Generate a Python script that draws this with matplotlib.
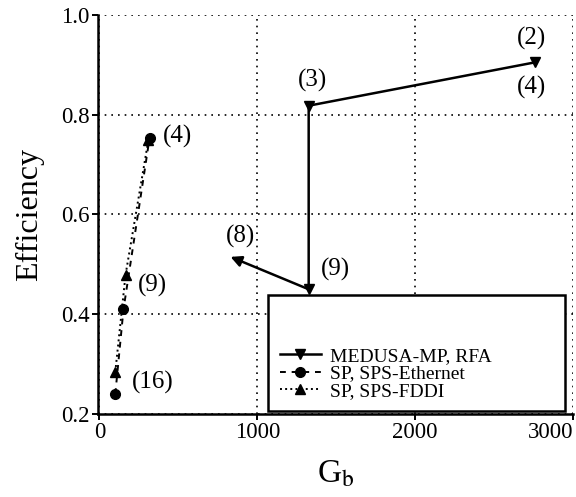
import matplotlib
matplotlib.use("Agg")
import matplotlib.pyplot as plt
from matplotlib.patches import Rectangle

plt.rcParams['font.family'] = ['Liberation Serif', 'DejaVu Serif']
plt.rcParams['mathtext.fontset'] = 'stix'

# MEDUSA-MP, RFA: path (2)/(4) -> (3) -> (9) -> (8)
medusa_gb = [2760, 1325, 1325]
medusa_eff = [0.905, 0.818, 0.450]
medusa_last_gb = 830
medusa_last_eff = 0.515

# SP, SPS-Ethernet
eth_gb = [100, 152, 317]
eth_eff = [0.240, 0.410, 0.753]

# SP, SPS-FDDI
fddi_gb = [100, 165, 310]
fddi_eff = [0.284, 0.479, 0.750]

fig = plt.figure(figsize=(5.76, 4.97), dpi=100)
ax = fig.add_axes([0.170, 0.167, 0.825, 0.803])

ax.plot(fddi_gb, fddi_eff, color='black', linestyle=':', linewidth=1.4,
        marker='^', markersize=6.5, label='SP, SPS-FDDI', zorder=3)
ax.plot(eth_gb, eth_eff, color='black', linestyle='--', linewidth=1.4,
        dashes=(3, 3), marker='o', markersize=7, label='SP, SPS-Ethernet', zorder=3)
ax.plot(medusa_gb, medusa_eff, color='black', linestyle='-', linewidth=1.8,
        marker='v', markersize=7, label='MEDUSA-MP, RFA', zorder=3)
# last MEDUSA segment ends in an arrow head
ax.annotate('', xy=(medusa_last_gb, medusa_last_eff),
            xytext=(medusa_gb[-1], medusa_eff[-1]),
            arrowprops=dict(arrowstyle='-|>', color='black', lw=1.8,
                            mutation_scale=16, shrinkA=0, shrinkB=0), zorder=3)

lbl = dict(fontsize=18, ha='center', va='center', textcoords='offset points')
ax.annotate('(2)', (medusa_gb[0], medusa_eff[0]), xytext=(-3, 17), **lbl)
ax.annotate('(4)', (medusa_gb[0], medusa_eff[0]), xytext=(-3, -18), **lbl)
ax.annotate('(3)', (medusa_gb[1], medusa_eff[1]), xytext=(3, 18), **lbl)
ax.annotate('(9)', (medusa_gb[2], medusa_eff[2]), xytext=(19, 14), **lbl)
ax.annotate('(8)', (medusa_last_gb, medusa_last_eff), xytext=(7, 15), **lbl)
ax.annotate('(4)', (eth_gb[2], eth_eff[2]), xytext=(20, 1), **lbl)
ax.annotate('(9)', (eth_gb[1], eth_eff[1]), xytext=(21, 17), **lbl)
ax.annotate('(16)', (eth_gb[0], eth_eff[0]), xytext=(27, 8), **lbl)

ax.set_xlim(-10, 3000)
ax.set_ylim(0.2, 1.0)
ax.set_xticks([0, 1000, 2000, 3000])
ax.set_yticks([0.2, 0.4, 0.6, 0.8, 1.0])
ax.set_yticklabels(['0.2', '0.4', '0.6', '0.8', '1.0'])
ax.tick_params(direction='out', length=4, width=1.4, labelsize=16.5, pad=2)
ax.get_xticklabels()[-1].set_ha('right')
ax.grid(True, color='black', linestyle=(0, (1, 3)), linewidth=1.2)
ax.set_axisbelow(True)
for side in ['top', 'right']:
    ax.spines[side].set_visible(False)
for side in ['left', 'bottom']:
    ax.spines[side].set_linewidth(1.8)

ax.set_ylabel('Efficiency', fontsize=23, labelpad=12)
ax.set_xlabel(r'G$_\mathrm{b}$', fontsize=24, labelpad=11)

# legend box is taller than its entries
box = Rectangle((0.358, 0.008), 0.625, 0.290, transform=ax.transAxes,
                facecolor='white', edgecolor='black', linewidth=1.8, zorder=4)
ax.add_patch(box)
handles, labels = ax.get_legend_handles_labels()
leg = ax.legend(handles[::-1], labels[::-1], loc='lower left',
                bbox_to_anchor=(0.383, 0.035), frameon=False, fontsize=14,
                handlelength=2.1, handletextpad=0.5, labelspacing=0.0,
                borderpad=0, borderaxespad=0, numpoints=1)
leg.set_zorder(5)

fig.savefig('out.png', dpi=100)
